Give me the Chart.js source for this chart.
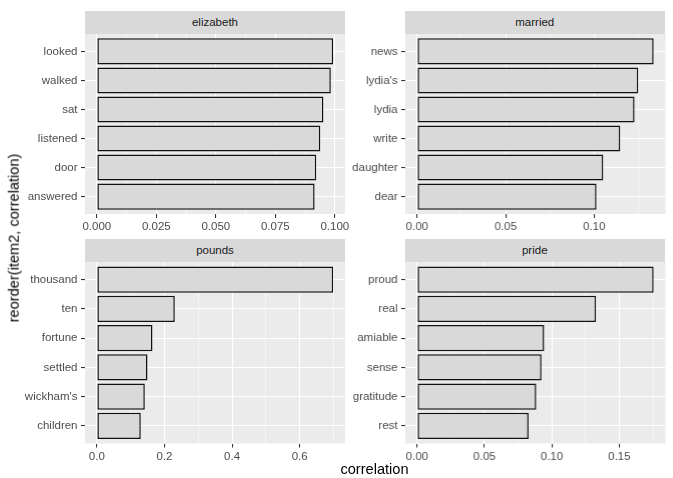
<!DOCTYPE html>
<html><head><meta charset="utf-8">
<script src="https://cdn.jsdelivr.net/npm/chart.js@4.4.0/dist/chart.umd.min.js"></script>
<style>
html,body{margin:0;padding:0;background:#fff;overflow:hidden;width:673px;height:478px;position:relative;}
.box{position:absolute;}
.strip{position:absolute;background:#D9D9D9;color:#1A1A1A;font-family:"Liberation Sans",Arial,Helvetica,sans-serif;font-size:11.5px;text-align:center;white-space:nowrap;}
.title{position:absolute;color:#000;font-family:"Liberation Sans",Arial,Helvetica,sans-serif;font-size:14.6px;font-weight:normal;white-space:nowrap;line-height:1;}
</style></head><body>
<script>
// ---- data ----
const panelTitles = ['elizabeth', 'married', 'pounds', 'pride'];

const elizabethWords  = ['looked', 'walked', 'sat', 'listened', 'door', 'answered'];
const elizabethValues = [0.0993, 0.0983, 0.0952, 0.0939, 0.0922, 0.0915];

const marriedWords  = ['news', "lydia's", 'lydia', 'write', 'daughter', 'dear'];
const marriedValues = [0.1336, 0.1249, 0.1228, 0.1147, 0.1051, 0.1013];

const poundsWords  = ['thousand', 'ten', 'fortune', 'settled', "wickham's", 'children'];
const poundsValues = [0.699, 0.2306, 0.1646, 0.1499, 0.1419, 0.130];

const prideWords  = ['proud', 'real', 'amiable', 'sense', 'gratitude', 'rest'];
const prideValues = [0.1755, 0.1327, 0.0943, 0.0923, 0.0884, 0.0827];

const elizabethTicks = [0, 0.025, 0.05, 0.075, 0.1];
const elizabethTickLabels = ['0.000', '0.025', '0.050', '0.075', '0.100'];
const marriedTicks = [0, 0.05, 0.1];
const marriedTickLabels = ['0.00', '0.05', '0.10'];
const poundsTicks = [0, 0.2, 0.4, 0.6];
const poundsTickLabels = ['0.0', '0.2', '0.4', '0.6'];
const prideTicks = [0, 0.05, 0.1, 0.15];
const prideTickLabels = ['0.00', '0.05', '0.10', '0.15'];

const xTitle = 'correlation';
const yTitle = 'reorder(item2, correlation)';

// ---- layout (styles only) ----
const FONT = '"Liberation Sans", Arial, Helvetica, sans-serif';
Chart.defaults.font.family = FONT;
const cols = [{left: 85, w: 260}, {left: 405, w: 259.5}];
const rows = [{stripTop: 11, stripH: 22.5, plotTop: 33.5, plotH: 180},
              {stripTop: 238.5, stripH: 23, plotTop: 261.5, plotH: 181.5}];
const YAXIS_W = 85, XAXIS_H = 30, PAD_R = 16;

const panels = [
  {title: panelTitles[0], words: elizabethWords, values: elizabethValues, ticks: elizabethTicks, labels: elizabethTickLabels, col: 0, row: 0},
  {title: panelTitles[1], words: marriedWords, values: marriedValues, ticks: marriedTicks, labels: marriedTickLabels, col: 1, row: 0},
  {title: panelTitles[2], words: poundsWords, values: poundsValues, ticks: poundsTicks, labels: poundsTickLabels, col: 0, row: 1},
  {title: panelTitles[3], words: prideWords, values: prideValues, ticks: prideTicks, labels: prideTickLabels, col: 1, row: 1}
];

const bgPlugin = {
  id: 'panelBg',
  beforeDraw(chart) {
    const {ctx, chartArea: a} = chart;
    ctx.save();
    ctx.fillStyle = '#EBEBEB';
    ctx.fillRect(a.left, a.top, a.right - a.left, a.bottom - a.top);
    ctx.restore();
  }
};

panels.forEach(p => {
  const c = cols[p.col], r = rows[p.row];
  const padTop = 12;
  // strip
  const s = document.createElement('div');
  s.className = 'strip';
  s.style.left = c.left + 'px'; s.style.top = r.stripTop + 'px';
  s.style.width = c.w + 'px'; s.style.height = r.stripH + 'px';
  s.style.lineHeight = r.stripH + 'px';
  s.textContent = p.title;
  document.body.appendChild(s);

  const box = document.createElement('div');
  box.className = 'box';
  box.style.left = (c.left - YAXIS_W) + 'px';
  box.style.top = (r.plotTop - padTop) + 'px';
  box.style.width = (YAXIS_W + c.w + PAD_R) + 'px';
  box.style.height = (padTop + r.plotH + XAXIS_H) + 'px';
  const cv = document.createElement('canvas');
  box.appendChild(cv);
  document.body.appendChild(box);

  const n = p.words.length;
  const vmax = Math.max(...p.values);
  const xmin = -0.05 * vmax, xmax = 1.05 * vmax;
  const step = p.ticks[1] - p.ticks[0];
  const tickObjs = [];
  const cand = [];
  p.ticks.forEach((t, i) => cand.push({value: t, isMajor: true, lbl: p.labels[i]}));
  cand.push({value: p.ticks[0] - step / 2, isMajor: false, lbl: ''});
  p.ticks.forEach(t => cand.push({value: t + step / 2, isMajor: false, lbl: ''}));
  cand.filter(t => t.value >= xmin && t.value <= xmax).sort((a, b) => a.value - b.value).forEach(t => tickObjs.push(t));

  new Chart(cv, {
    type: 'bar',
    data: {
      datasets: [{
        data: p.values.map((v, i) => ({x: v, y: n - 1 - i})),
        backgroundColor: '#D9D9D9',
        borderColor: '#111111',
        borderWidth: 1.5,
        borderSkipped: false,
        barPercentage: 0.9,
        categoryPercentage: 1.0
      }]
    },
    options: {
      indexAxis: 'y',
      responsive: true,
      maintainAspectRatio: false,
      animation: false,
      layout: {padding: {left: 0, right: PAD_R, top: padTop, bottom: 0}},
      plugins: {legend: {display: false}, tooltip: {enabled: false}, title: {display: false}},
      scales: {
        x: {
          type: 'linear', position: 'bottom', min: xmin, max: xmax, offset: false,
          afterBuildTicks: sc => { sc.ticks = tickObjs.map(t => ({...t})); },
          afterFit: sc => { sc.height = XAXIS_H; },
          border: {display: false},
          grid: {
            offset: false,
            color: '#FFFFFF',
            lineWidth: ctx => (ctx.tick && ctx.tick.isMajor) ? 1.1 : 0.55,
            tickColor: ctx => (ctx.tick && ctx.tick.isMajor) ? '#333333' : 'rgba(0,0,0,0)',
            tickWidth: ctx => (ctx.tick && ctx.tick.isMajor) ? 1.07 : 0,
            tickLength: 4, drawTicks: true
          },
          ticks: {
            autoSkip: false, maxRotation: 0, minRotation: 0, padding: 2,
            color: '#4D4D4D', font: {size: 11.5},
            callback: (v, i, ts) => ts[i].lbl || ''
          }
        },
        y: {
          type: 'linear', position: 'left', min: -0.6, max: n - 0.4, offset: false,
          afterBuildTicks: sc => { sc.ticks = p.words.map((w, i) => ({value: i})); },
          afterFit: sc => { sc.width = YAXIS_W; },
          border: {display: false},
          grid: {offset: false, color: '#FFFFFF', lineWidth: 1.1, tickColor: '#333333', tickWidth: 1.07, tickLength: 4, drawTicks: true},
          ticks: {
            autoSkip: false, padding: 3.5, color: '#4D4D4D', font: {size: 11.5},
            callback: v => p.words[n - 1 - Math.round(v)]
          }
        }
      }
    },
    plugins: [bgPlugin]
  });
});

const xt = document.createElement('div');
xt.className = 'title';
xt.textContent = xTitle;
xt.style.left = '374.5px'; xt.style.top = '469px';
xt.style.transform = 'translate(-50%,-50%)';
document.body.appendChild(xt);

const yt = document.createElement('div');
yt.className = 'title';
yt.textContent = yTitle;
yt.style.left = '14px'; yt.style.top = '238px';
yt.style.transform = 'translate(-50%,-50%) rotate(-90deg)';
document.body.appendChild(yt);
</script>
</body></html>
